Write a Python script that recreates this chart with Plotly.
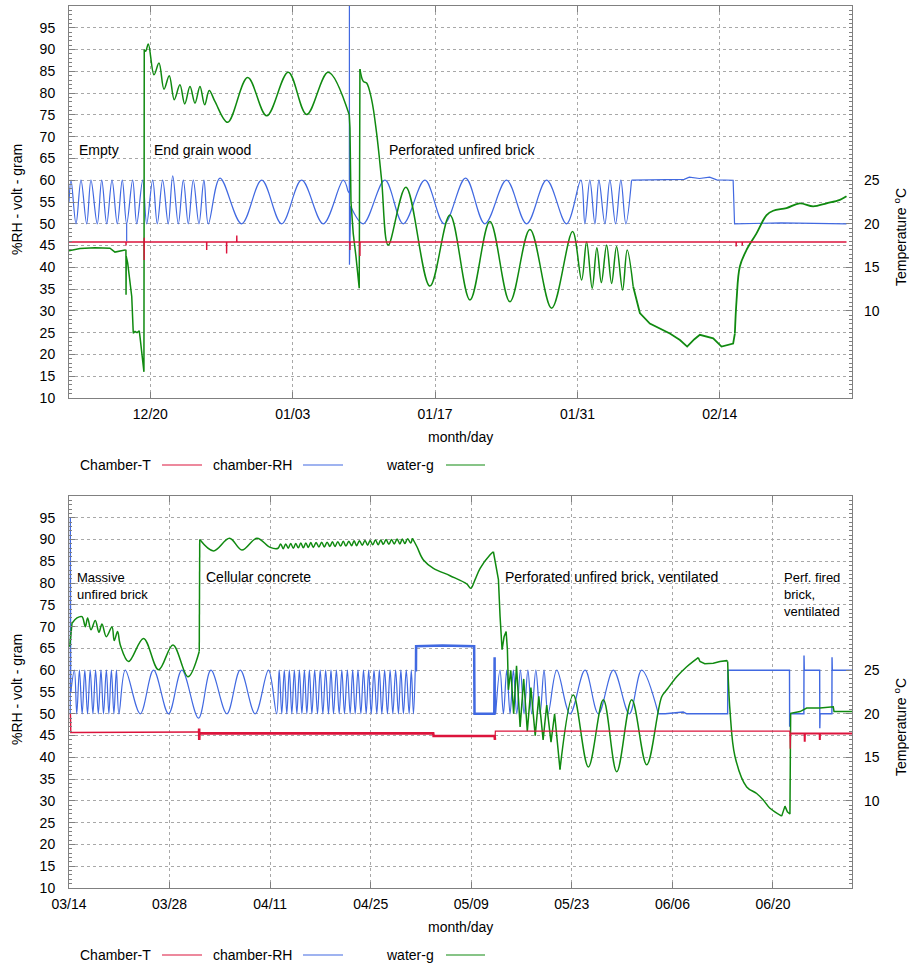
import pandas as pd
import plotly.graph_objects as go

# ---------------------------------------------------------------- data
# times are "days since panel start"
START1 = "2012-12-12"
START2 = "2013-03-14"

# ---- panel 1 : chamber-RH (%RH, left axis)
RH1_A_DAY = [0.00, 0.20, 0.69, 1.18, 1.74, 2.16, 2.78, 3.22, 3.71, 4.23, 4.75, 5.24, 5.67, 6.26,
             6.66, 7.25, 7.64, 8.23, 8.68, 9.21, 9.76, 10.20, 10.75, 11.24, 11.73, 12.22, 12.78,
             13.27, 13.70, 14.85, 16.98, 18.95, 20.91, 22.88, 25.00, 26.97, 27.43]
RH1_A_VAL = [55, 60, 50, 60, 50, 60, 50, 60, 50, 60, 50, 60, 50, 60, 50, 60, 50, 60, 50, 60, 50,
             61, 50, 60, 50, 60, 50, 60, 50, 60.5, 50, 60, 50, 60, 50, 60, 57.5]
RH1_DIP_DAY = [5.67, 5.67]
RH1_DIP_VAL = [50, 46]
RH1_SPIKE_DAY = [27.43, 27.57, 27.575, 27.58, 27.70]
RH1_SPIKE_VAL = [57.5, 57, 100, 40.6, 54]
RH1_B_DAY = [27.70, 28.94, 31.07, 32.87, 35.00, 36.90, 39.00, 40.90, 43.03, 45.00, 46.97, 48.93,
             50.34, 50.73, 51.22, 51.72, 52.11, 52.70, 53.19, 53.75, 54.27, 54.76, 55.32]
RH1_B_VAL = [54, 50, 60, 50, 60, 50, 60.5, 50, 60, 50, 60, 50, 60, 50, 60, 50, 60, 50, 60, 50,
             60, 50, 60]
RH1_C_DAY = [55.32, 58.0, 60.5, 61.0, 62.0, 63.0, 63.7, 65.31, 65.45, 70.0, 76.46]
RH1_C_VAL = [60, 60.1, 60.2, 60.7, 60.4, 60.7, 60.1, 60, 50, 50.2, 50]

# ---- panel 1 : water-g (gram, left axis)
G1_A_DAY = [0.00, 1.08, 2.56, 4.03, 4.52, 5.01, 5.50, 5.60, 5.61, 5.63, 5.77, 6.17, 6.32, 6.49,
            6.69, 6.91, 6.98, 7.18, 7.37, 7.40]
G1_A_VAL = [43.8, 44.3, 44.5, 44.4, 43.5, 43.8, 44.0, 43.9, 33.7, 42.5, 41.0, 33.3, 24.9, 25.3,
            25.0, 25.4, 24.1, 20.5, 16.0, 90.0]
G1_B_DAY = [7.40, 7.54, 7.80, 8.36, 8.85, 9.34, 9.86, 10.35, 10.91, 11.38, 11.90, 12.39, 12.88,
            13.34, 13.79, 14.35, 15.60, 17.57, 19.44, 21.56, 23.37, 25.49, 27.56]
G1_B_VAL = [90.0, 89.6, 91.3, 84.2, 86.9, 80.9, 84.0, 78.5, 81.9, 77.5, 81.5, 77.7, 81.5, 77.3,
            80.6, 78.1, 73.3, 83.6, 74.8, 84.8, 75.1, 84.8, 75.0]
G1_C_DAY = [27.56, 27.63, 27.73, 27.95, 28.22, 28.54, 28.61]
G1_C_VAL = [75.0, 72.0, 55.0, 47.8, 42.5, 35.2, 85.5]
G1_D_DAY = [28.61, 28.94, 29.27, 29.76, 30.25, 30.74, 31.39, 33.13, 35.49, 37.46, 39.43, 41.39,
            43.36, 45.33, 47.46, 49.52, 50.41, 50.90, 51.45, 51.91, 52.35, 52.87, 53.36, 53.85,
            54.44, 54.89, 55.48]
G1_D_VAL = [85.5, 82.7, 82.3, 78.5, 70.8, 60.1, 45.1, 58.4, 35.7, 52.0, 32.5, 50.5, 32.1, 48.7,
            30.6, 48.2, 37.1, 45.9, 35.2, 44.5, 36.5, 45.1, 36.3, 44.8, 34.8, 44.0, 35.6]
G1_E_DAY = [55.48, 56.14, 57.12, 58.11, 59.09, 60.08, 60.79, 61.50, 62.04, 63.35, 64.17, 65.31,
            65.48]
G1_E_VAL = [35.6, 29.5, 27.1, 26.0, 24.8, 23.3, 21.8, 23.5, 24.5, 23.7, 21.8, 22.5, 24.8]
G1_F_DAY = [65.48, 65.65, 65.97, 66.63, 67.61, 68.60, 69.25, 70.56, 71.87, 73.18, 74.50, 75.81,
            76.46]
G1_F_VAL = [24.8, 32.5, 40.2, 44.0, 47.8, 52.0, 53.0, 53.6, 54.7, 54.0, 54.7, 55.5, 56.3]

# ---- panel 1 : Chamber-T (degC, right axis)
T1_DAY = [0.00, 5.60, 5.61, 5.62, 7.38, 7.39, 7.40, 7.41, 13.53, 13.54, 13.55, 15.49, 15.50,
          15.51, 16.49, 16.50, 16.51, 27.62, 27.63, 27.64, 28.60, 28.61, 28.62, 65.60, 65.61,
          65.62, 66.20, 66.21, 66.22, 76.46]
T1_VAL = [17.9, 17.9, 17.5, 17.9, 17.9, 15.85, 18.4, 17.9, 17.9, 17.0, 17.9, 17.9, 16.6, 17.9,
          17.9, 18.65, 17.9, 17.9, 17.0, 17.9, 17.9, 16.3, 17.9, 17.9, 17.4, 17.9, 17.9, 17.5,
          17.9, 17.9]

# ---- panel 2 : chamber-RH
RH2_A_DAY = [0.10, 0.18, 0.19, 0.25]
RH2_A_VAL = [50, 50, 95, 55]
RH2_B_DAY = [0.25, 0.75, 1.08, 1.45, 1.83, 2.20, 2.58, 2.95, 3.33, 3.70, 4.08, 4.45, 4.80, 5.20,
             5.55, 5.90, 6.25, 6.60, 6.95,
             7.83, 9.92, 11.77, 13.86, 15.72, 18.03, 19.76, 21.98, 23.84, 25.92, 27.77,
             28.90, 29.26, 29.62, 29.97, 30.32, 30.67, 31.02, 31.37, 31.72, 32.07, 32.42, 32.77,
             33.11, 33.46, 33.81, 34.20, 34.59, 34.97, 35.34, 35.73, 36.12, 36.47, 36.82, 37.22,
             37.61, 37.98, 38.35, 38.75, 39.14, 39.49, 39.84, 40.23, 40.63, 41.00, 41.37, 41.72,
             42.07, 42.46, 42.85, 43.20, 43.55, 43.94, 44.33, 44.70, 45.08, 45.47, 45.86, 46.20,
             46.55, 46.95, 47.35, 47.65, 47.95, 48.20]
RH2_B_VAL = [55, 60, 50, 60, 50, 60, 50, 60, 50, 60, 50, 60, 50, 60, 50, 60, 50, 60, 50,
             60, 50, 60, 50, 60, 49, 60, 50, 60, 50, 60,
             50, 60, 50, 60, 50, 60, 50, 60, 50, 60, 50, 60, 50, 60, 50, 60, 50, 60, 50, 60,
             50, 60, 50, 60, 50, 60, 50, 60, 50, 60, 50, 60, 50, 60, 50, 60, 50, 60, 50, 60,
             50, 60, 50, 60, 50, 60, 50, 60, 50, 60, 50, 60, 50, 60]
RH2_C_DAY = [48.20, 48.30, 48.32, 52.0, 56.40, 56.45, 59.20, 59.25, 59.27, 59.40]
RH2_C_VAL = [60, 60, 65.5, 65.7, 65.5, 50, 50, 63, 50, 50]
RH2_D_DAY = [59.40, 60.00, 60.47, 60.94, 61.40, 61.86, 62.33, 62.84, 63.35, 63.88, 64.42, 64.99,
             65.58, 66.13, 66.69, 67.90, 69.75, 71.84, 73.69, 75.78, 78.00, 79.73, 82.04]
RH2_D_VAL = [50, 60, 50, 60, 50, 60, 50, 60, 50, 60, 50, 60, 50, 60, 50, 60, 50, 60, 50, 60, 50,
             60, 50]
RH2_E_DAY = [82.04, 83.0, 85.5, 86.0, 91.69, 91.72, 100.30, 100.32, 100.36, 102.30, 102.32,
             102.36, 104.50, 104.52, 104.56, 106.20, 106.22, 106.26, 109.0]
RH2_E_VAL = [50, 50, 50.4, 50, 50, 60, 60, 47, 50, 50, 63.4, 60, 60, 46.7, 50, 50, 63, 60, 60]

# ---- panel 2 : water-g
G2_A_DAY = [0.10, 0.42]
G2_A_VAL = [65.4, 70.8]
G2_B_DAY = [0.42, 1.11, 1.81, 2.27, 2.59, 3.06, 3.66, 4.17, 4.59, 5.19, 5.98, 6.30, 6.76, 7.14,
            8.29, 10.38, 12.47, 14.47, 16.56, 18.13]
G2_B_VAL = [70.8, 72.0, 72.3, 70.0, 72.0, 69.3, 71.4, 68.7, 70.6, 67.7, 69.9, 66.8, 68.9, 65.8,
            62.0, 67.3, 60.1, 65.8, 58.5, 64.3]
G2_C_DAY = [18.13, 18.20]
G2_C_VAL = [64.3, 90.0]
G2_D_DAY = [18.20, 20.12, 22.35, 24.07, 26.16, 28.01,
            29.10, 29.46, 29.82, 30.17, 30.52, 30.87, 31.22, 31.57, 31.92, 32.27, 32.62, 32.97,
            33.31, 33.66, 34.01, 34.40, 34.79, 35.17, 35.54, 35.93, 36.32, 36.67, 37.02, 37.42,
            37.81, 38.18, 38.55, 38.95, 39.34, 39.69, 40.04, 40.43, 40.83, 41.20, 41.57, 41.92,
            42.27, 42.66, 43.05, 43.40, 43.75, 44.14, 44.53, 44.90, 45.28, 45.67, 46.06, 46.40,
            46.75, 47.15, 47.55, 47.81]
G2_D_VAL = [90.0, 87.4, 90.3, 87.6, 90.3, 88.2,
            88.0, 89.0, 87.9, 89.0, 88.0, 89.1, 88.0, 89.1, 88.1, 89.2, 88.1, 89.2,
            88.2, 89.3, 88.2, 89.3, 88.3, 89.4, 88.3, 89.4, 88.4, 89.5, 88.4, 89.5,
            88.5, 89.6, 88.5, 89.6, 88.6, 89.7, 88.6, 89.7, 88.7, 89.8, 88.7, 89.8,
            88.8, 89.9, 88.8, 89.9, 88.9, 90.0, 88.9, 90.0, 89.0, 90.1, 89.0, 90.1,
            89.1, 90.2, 89.2, 90.3]
G2_E_DAY = [47.81, 48.42, 49.34, 50.73, 53.05, 55.38, 55.93, 56.53, 57.23, 58.62, 59.08]
G2_E_VAL = [90.3, 88.4, 85.3, 83.4, 81.7, 79.8, 78.8, 80.8, 83.4, 86.5, 87.2]
G2_F_DAY = [59.08, 59.78, 60.01, 60.29, 60.57, 60.85, 61.03, 61.17, 61.50, 61.90, 62.30, 62.80,
            63.30, 63.80, 64.30, 64.90, 65.40, 66.00, 66.50, 67.10, 67.60, 68.35]
G2_F_VAL = [87.2, 80.8, 72.3, 64.7, 67.7, 68.9, 64.7, 55.5, 60.0, 50.0, 61.0, 47.0, 58.0, 46.0,
            56.0, 45.0, 54.0, 44.0, 52.0, 43.5, 50.0, 37.2]
G2_G_DAY = [68.35, 70.21, 72.30, 74.38, 76.25, 78.34, 80.42, 82.51, 83.21, 84.60, 85.99, 87.60]
G2_G_VAL = [37.2, 54.3, 37.8, 53.2, 36.7, 53.2, 38.3, 53.9, 55.5, 58.5, 60.8, 62.9]
G2_H_DAY = [87.60, 87.84, 88.50, 89.69, 90.62, 91.55, 91.69]
G2_H_VAL = [62.9, 62.0, 61.5, 61.6, 62.0, 62.2, 62.0]
G2_I_DAY = [91.69, 92.01, 92.71, 94.34, 95.73, 96.65, 97.58, 99.21]
G2_I_VAL = [62.0, 50.9, 40.2, 33.2, 31.7, 30.2, 28.3, 26.5]
G2_J_DAY = [99.21, 99.67, 100.00, 100.36, 100.46, 101.76, 102.69, 104.54, 106.39, 106.50, 108.25,
            109.0]
G2_J_VAL = [26.5, 28.8, 27.5, 27.0, 50.1, 50.5, 51.3, 51.3, 51.6, 50.5, 50.5, 50.5]

# ---- panel 2 : Chamber-T
T2_A_DAY = [0.15, 0.20, 0.25, 18.10]
T2_A_VAL = [20.0, 20.0, 17.85, 17.9]
T2_B_DAY = [18.10, 18.12, 18.13, 18.14, 18.16, 50.70, 50.75, 59.25, 59.30]
T2_B_VAL = [17.9, 18.3, 17.0, 17.75, 17.75, 17.75, 17.45, 17.45, 17.0]
T2_C_DAY = [59.30, 59.35, 100.35, 100.40, 100.45]
T2_C_VAL = [17.0, 18.0, 18.0, 16.0, 17.75]
T2_D_DAY = [100.45, 102.40, 102.42, 102.44, 104.50, 104.52, 104.54, 109.0]
T2_D_VAL = [17.75, 17.75, 16.8, 17.75, 17.75, 17.0, 17.75, 17.75]

# ---------------------------------------------------------------- style
W, H = 909, 966
RED, BLUE, GREEN = "#dc143c", "#4169e1", "#108a10"
FONT = "Liberation Sans"
GRID = "#a8a8a8"
AXC = "#808080"


def px(x):
    return x / W


def py(y):
    return 1 - y / H


fig = go.Figure()


def seg(start, days, vals, color, xa, ya, shape="linear", width=1.2):
    t = pd.Timestamp(start) + pd.to_timedelta(days, unit="D")
    fig.add_trace(go.Scatter(x=t, y=vals, mode="lines", xaxis=xa, yaxis=ya,
                             line=dict(color=color, width=width, shape=shape),
                             showlegend=False, hoverinfo="skip"))


# panel 1
seg(START1, T1_DAY, T1_VAL, RED, "x", "y2", width=1.4)
seg(START1, RH1_A_DAY, RH1_A_VAL, BLUE, "x", "y", "spline")
seg(START1, RH1_DIP_DAY, RH1_DIP_VAL, BLUE, "x", "y")
seg(START1, RH1_SPIKE_DAY, RH1_SPIKE_VAL, BLUE, "x", "y")
seg(START1, RH1_B_DAY, RH1_B_VAL, BLUE, "x", "y", "spline")
seg(START1, RH1_C_DAY, RH1_C_VAL, BLUE, "x", "y")
seg(START1, G1_A_DAY, G1_A_VAL, GREEN, "x", "y", width=1.5)
seg(START1, G1_B_DAY, G1_B_VAL, GREEN, "x", "y", "spline", 1.5)
seg(START1, G1_C_DAY, G1_C_VAL, GREEN, "x", "y", width=1.5)
seg(START1, G1_D_DAY, G1_D_VAL, GREEN, "x", "y", "spline", 1.5)
seg(START1, G1_E_DAY, G1_E_VAL, GREEN, "x", "y", width=1.8)
seg(START1, G1_F_DAY, G1_F_VAL, GREEN, "x", "y", "spline", 1.8)

# panel 2
seg(START2, T2_A_DAY, T2_A_VAL, RED, "x2", "y4", width=1.4)
seg(START2, T2_B_DAY, T2_B_VAL, RED, "x2", "y4", width=2.6)
seg(START2, T2_C_DAY, T2_C_VAL, RED, "x2", "y4", width=1.2)
seg(START2, T2_D_DAY, T2_D_VAL, RED, "x2", "y4", width=2.0)
seg(START2, RH2_A_DAY, RH2_A_VAL, BLUE, "x2", "y3")
seg(START2, RH2_B_DAY, RH2_B_VAL, BLUE, "x2", "y3", "spline")
seg(START2, RH2_C_DAY, RH2_C_VAL, BLUE, "x2", "y3", width=2.5)
seg(START2, RH2_D_DAY, RH2_D_VAL, BLUE, "x2", "y3", "spline")
seg(START2, RH2_E_DAY, RH2_E_VAL, BLUE, "x2", "y3", width=1.4)
seg(START2, G2_A_DAY, G2_A_VAL, GREEN, "x2", "y3", width=1.5)
seg(START2, G2_B_DAY, G2_B_VAL, GREEN, "x2", "y3", "spline", 1.5)
seg(START2, G2_C_DAY, G2_C_VAL, GREEN, "x2", "y3", width=1.5)
seg(START2, G2_D_DAY, G2_D_VAL, GREEN, "x2", "y3", "spline", 1.5)
seg(START2, G2_E_DAY, G2_E_VAL, GREEN, "x2", "y3", "spline", 1.5)
seg(START2, G2_F_DAY, G2_F_VAL, GREEN, "x2", "y3", width=1.5)
seg(START2, G2_G_DAY, G2_G_VAL, GREEN, "x2", "y3", "spline", 1.5)
seg(START2, G2_H_DAY, G2_H_VAL, GREEN, "x2", "y3", width=1.5)
seg(START2, G2_I_DAY, G2_I_VAL, GREEN, "x2", "y3", "spline", 1.5)
seg(START2, G2_J_DAY, G2_J_VAL, GREEN, "x2", "y3", width=1.5)

DAY_MS = 86400000
xdom = [px(69), px(852)]
tickfont = dict(family=FONT, size=14, color="#000000")


def xaxis(start, end, tick0, anchor):
    return dict(domain=xdom, anchor=anchor, type="date", range=[start, end], automargin=False,
                tick0=tick0, dtick=14 * DAY_MS, tickformat="%m/%d",
                ticks="inside", ticklen=6, tickcolor=AXC, showline=True, linecolor=AXC,
                mirror="ticks", showgrid=True, gridcolor=GRID, griddash="dot", gridwidth=1,
                zeroline=False, tickfont=tickfont, ticklabelstandoff=3)


def yleft(dom, anchor):
    return dict(domain=dom, anchor=anchor, range=[10, 100], tickmode="array", automargin=False,
                tickvals=list(range(10, 100, 5)), ticks="inside", ticklen=6, tickcolor=AXC,
                minor=dict(tickmode="linear", tick0=10, dtick=1, ticks="inside", ticklen=3,
                           tickcolor=AXC, showgrid=False),
                showline=True, linecolor=AXC, mirror=True, showgrid=True, gridcolor=GRID,
                griddash="dot", gridwidth=1, zeroline=False, tickfont=tickfont,
                ticklabelstandoff=10)


def yright(over, anchor):
    return dict(overlaying=over, anchor=anchor, side="right", range=[0, 45], tickmode="array",
                tickvals=[10, 15, 20, 25], ticks="inside", ticklen=6, tickcolor=AXC,
                automargin=False,
                minor=dict(tickmode="linear", tick0=0, dtick=0.5, ticks="inside", ticklen=3,
                           tickcolor=AXC, showgrid=False),
                showline=False, showgrid=False, zeroline=False, tickfont=tickfont,
                ticklabelstandoff=11)


fig.update_layout(
    width=W, height=H, margin=dict(l=0, r=0, t=0, b=0, pad=0, autoexpand=False),
    paper_bgcolor="white", plot_bgcolor="white", showlegend=False,
    xaxis=xaxis("2012-12-12", "2013-02-27", "2012-12-20", "y"),
    yaxis=yleft([py(398), py(6)], "x"),
    yaxis2=yright("y", "x"),
    xaxis2=xaxis("2013-03-14", "2013-07-01", "2013-03-14", "y3"),
    yaxis3=yleft([py(888), py(496)], "x2"),
    yaxis4=yright("y3", "x2"),
)

ann = []
shapes = []


def text(x, y, s, size=14, anchor="left", angle=0, yanchor="middle"):
    ann.append(dict(x=px(x), y=py(y), xref="paper", yref="paper", text=s, showarrow=False,
                    xanchor=anchor, yanchor=yanchor, textangle=angle, borderpad=0,
                    align="left" if anchor == "left" else "center",
                    font=dict(family=FONT, size=size, color="#000000")))


for off, plot_bottom in ((0, 398), (490, 888)):
    text(17, off + 200, "%RH - volt - gram", anchor="center", angle=-90)
    text(900, off + 237, "Temperature <sup>o</sup>C", anchor="center", angle=-90)
    text(460.5, plot_bottom + 39, "month/day", anchor="center")
    ly = plot_bottom + 67
    for label, xr, x0, x1, col in (("Chamber-T", 151.7, 162, 202, RED),
                                   ("chamber-RH", 292.7, 303, 343, BLUE),
                                   ("water-g", 435, 446, 485, GREEN)):
        text(xr, ly, label, anchor="right")
        shapes.append(dict(type="line", xref="paper", yref="paper", x0=px(x0), x1=px(x1),
                           y0=py(ly), y1=py(ly), line=dict(color=col, width=1.2)))

# phase labels
text(78, 150, "Empty")
text(153, 150, "End grain wood")
text(388, 150, "Perforated unfired brick")
text(76, 569, "Massive<br>unfired brick", size=13, yanchor="top")
text(205, 577, "Cellular concrete")
text(504, 577, "Perforated unfired brick, ventilated")
text(783, 569, "Perf. fired<br>brick,<br>ventilated", size=13, yanchor="top")

fig.update_layout(annotations=ann, shapes=shapes)
fig.write_html("out.html", config={"displayModeBar": False},
               post_script="document.body.style.margin='0px';")
